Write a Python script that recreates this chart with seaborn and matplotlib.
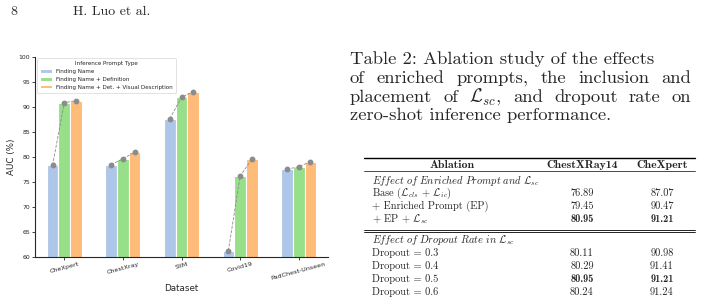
import matplotlib
matplotlib.use('Agg')
import matplotlib.pyplot as plt
import seaborn as sns
import pandas as pd

# chart data
datasets = ['CheXpert', 'ChestXray', 'SIIM', 'Covid19', 'PadChest-Unseen']
prompt_types = ['Finding Name', 'Finding Name + Definition',
                'Finding Name + Det. + Visual Description']
auc_name = [78.3, 78.4, 87.6, 61.2, 77.5]
auc_def = [90.8, 79.6, 91.9, 76.1, 78.0]
auc_full = [91.2, 80.9, 93.0, 79.5, 79.0]
colors = ['#aec7e8', '#98df8a', '#ffbb78']

# table data
table_rows = [r'Base ($\mathcal{L}_{cls}$ + $\mathcal{L}_{ic}$)',
              '+ Enriched Prompt (EP)',
              r'+ EP + $\mathcal{L}_{sc}$',
              'Dropout = 0.3', 'Dropout = 0.4', 'Dropout = 0.5', 'Dropout = 0.6']
table_cxr14 = ['76.89', '79.45', '80.95', '80.11', '80.29', '80.95', '80.24']
table_chexpert = ['87.07', '90.47', '91.21', '90.98', '91.41', '91.21', '91.24']
table_bold = [False, False, True, False, False, True, False]

W, H = 705, 303


def fx(x):
    return x / W


def fy(y):
    return 1 - y / H


sns.set_style('ticks')
plt.rcParams['font.family'] = ['DejaVu Sans']
plt.rcParams['mathtext.fontset'] = 'cm'

df = pd.DataFrame({
    'Dataset': datasets * 3,
    'AUC': auc_name + auc_def + auc_full,
    'Prompt': [p for p in prompt_types for _ in datasets],
})

fig = plt.figure(figsize=(W / 100, H / 100), dpi=100)
ax = fig.add_axes([fx(35), fy(256.7), (328 - 35) / W, 200 / H])

sns.barplot(data=df, x='Dataset', y='AUC', hue='Prompt', palette=colors,
            saturation=1, width=0.6, edgecolor='white', linewidth=0.8, ax=ax)

# gray dots on bar tops joined by a dashed line inside each group
for i in range(len(datasets)):
    xs = [c[i].get_x() + c[i].get_width() / 2 for c in ax.containers]
    ys = [c[i].get_height() for c in ax.containers]
    ax.plot(xs, ys, linestyle='--', marker='o', color='#8c8c8c', ms=3.2,
            lw=0.6, zorder=3)

ax.set_ylim(60, 100)
ax.set_yticks(range(60, 101, 5))
ax.set_xlim(-0.5, 4.5)
ax.set_xlabel('Dataset', fontsize=6.3, labelpad=2)
ax.set_ylabel('AUC (%)', fontsize=6.3, labelpad=2)
ax.tick_params(axis='both', length=2, width=0.6, pad=1.5)
ax.tick_params(axis='x', labelsize=4.6)
ax.tick_params(axis='y', labelsize=4.4)
plt.setp(ax.get_xticklabels(), rotation=15)
for s in ax.spines.values():
    s.set_linewidth(0.8)
sns.despine(ax=ax)

leg = ax.legend(title='Inference Prompt Type', loc='upper left',
                fontsize=4.1, title_fontsize=4.1, frameon=True,
                borderaxespad=0.3, handlelength=2.1, handleheight=0.5,
                labelspacing=0.5, borderpad=0.5)
leg.get_frame().set_linewidth(0.5)

# page header
fig.text(fx(10), fy(12), '8', family='cmr10', fontsize=10, va='center')
fig.text(fx(73), fy(12), 'H. Luo et al.', family='cmr10', fontsize=10,
         va='center')

# caption: lines 2 and 3 spread to the right margin, others natural
renderer = fig.canvas.get_renderer()
cap_size = 13.4
cap_x0 = 350
caption = ['Table 2: Ablation study of the effects',
           'of enriched prompts, the inclusion and',
           r'placement of $\mathcal{L}_{sc}$, and dropout rate on',
           'zero-shot inference performance.']
cap_right = [None, 691, 691, None]
for k, (line, right) in enumerate(zip(caption, cap_right)):
    y = fy(64.3 + k * 18.7)
    if right is None:
        fig.text(fx(cap_x0), y, line, family='cmr10', fontsize=cap_size,
                 va='baseline')
        continue
    words = [fig.text(0, y, w, family='cmr10', fontsize=cap_size,
                      va='baseline') for w in line.split(' ')]
    widths = [t.get_window_extent(renderer).width for t in words]
    gap = (right - cap_x0 - sum(widths)) / (len(words) - 1)
    x = cap_x0
    for t, wd in zip(words, widths):
        t.set_x(fx(x))
        x += wd + gap

# table
tfs = 7.5
x_left, x_c1, x_c2 = 372, 582, 662
for y, lw in [(158.5, 1.0), (171, 0.5), (230, 0.6), (232.2, 0.6)]:
    fig.add_artist(plt.Line2D([fx(364), fx(695)], [fy(y), fy(y)],
                              transform=fig.transFigure, color='black', lw=lw))
for x, t in [(452, 'Ablation'), (x_c1, 'ChestXRay14'), (x_c2, 'CheXpert')]:
    fig.text(fx(x), fy(165), t, family='cmb10', fontsize=8.5,
             ha='center', va='center')
fig.text(fx(x_left), fy(180),
         r'$\mathit{Effect\ of\ Enriched\ Prompt\ and}\ \mathcal{L}_{sc}$',
         fontsize=tfs, va='center')
fig.text(fx(x_left), fy(240),
         r'$\mathit{Effect\ of\ Dropout\ Rate\ in}\ \mathcal{L}_{sc}$',
         fontsize=tfs, va='center')
row_y = [193, 206, 219, 253, 266, 279, 292]
for y, name, v1, v2, b in zip(row_y, table_rows, table_cxr14, table_chexpert,
                              table_bold):
    fam = 'cmb10' if b else 'cmr10'
    fig.text(fx(x_left), fy(y), name, family='cmr10', fontsize=tfs, va='center')
    fig.text(fx(x_c1), fy(y), v1, family=fam, fontsize=tfs, ha='center',
             va='center')
    fig.text(fx(x_c2), fy(y), v2, family=fam, fontsize=tfs, ha='center',
             va='center')

fig.savefig('out.png', dpi=100)
